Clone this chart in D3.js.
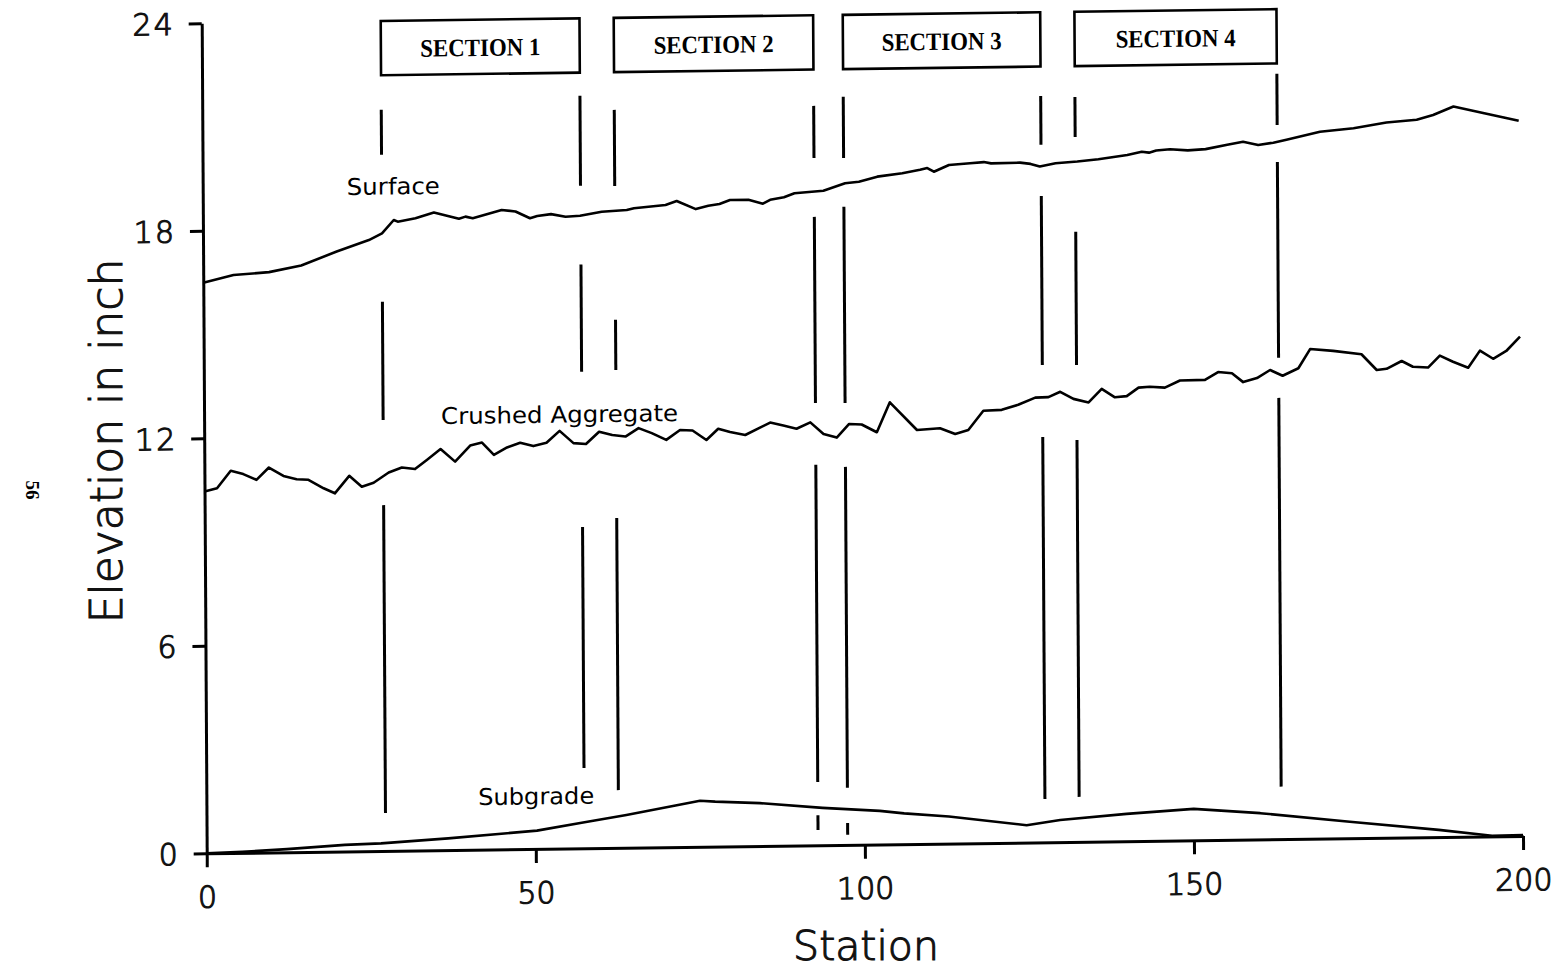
<!DOCTYPE html>
<html>
<head>
<meta charset="utf-8">
<script src="https://cdn.jsdelivr.net/npm/d3@7"></script>
<style>
  html, body { margin: 0; padding: 0; background: #fff; }
  svg { display: block; }
</style>
</head>
<body>
<div id="chart"></div>
<script>
// Layer elevations along the test road, [station, elevation in inch]
const surface = [[0,16.50],[4.6,16.71],[10.0,16.78],[14.9,16.96],[20.3,17.35],[25.2,17.67],[27.2,17.86],[29.0,18.24],[29.6,18.19],[32.3,18.28],[35.1,18.44],[38.9,18.25],[39.9,18.31],[41.0,18.26],[45.4,18.49],[47.5,18.44],[49.7,18.24],[50.8,18.30],[52.9,18.35],[55.1,18.27],[57.3,18.29],[60.6,18.40],[64.4,18.44],[65.5,18.49],[70.3,18.57],[72.0,18.68],[74.9,18.44],[76.8,18.53],[78.5,18.58],[80.1,18.69],[82.9,18.69],[85.1,18.57],[86.2,18.68],[88.3,18.75],[89.9,18.86],[94.3,18.92],[97.6,19.13],[99.7,19.17],[102.5,19.31],[106.3,19.40],[109.0,19.49],[110.1,19.54],[111.1,19.43],[113.4,19.62],[116.6,19.66],[118.7,19.69],[119.8,19.65],[124.2,19.66],[125.8,19.62],[127.2,19.54],[129.6,19.63],[132.9,19.67],[136.1,19.73],[140.5,19.84],[142.7,19.93],[143.8,19.90],[144.9,19.96],[147.0,19.99],[149.7,19.95],[152.4,19.98],[155.7,20.10],[158.1,20.18],[160.4,20.08],[162.7,20.14],[164.7,20.22],[169.8,20.44],[174.9,20.53],[179.9,20.68],[184.5,20.75],[187.0,20.88],[190.1,21.12],[194.6,20.92],[200,20.68]];

const crushedAggregate = [[0,10.46],[1.9,10.55],[4.0,11.05],[5.9,10.95],[7.9,10.78],[9.8,11.13],[12.0,10.88],[14.0,10.78],[15.8,10.76],[18.1,10.51],[19.8,10.36],[22.0,10.86],[23.9,10.54],[25.7,10.65],[28.0,10.94],[30.0,11.08],[32.0,11.03],[33.8,11.29],[35.9,11.60],[38.1,11.23],[40.4,11.69],[42.2,11.77],[44.0,11.41],[46.0,11.62],[48.0,11.75],[50.0,11.65],[52.0,11.74],[54.0,12.08],[56.1,11.72],[58.0,11.69],[60.0,12.04],[62.0,11.94],[64.0,11.89],[66.0,12.13],[68.0,11.98],[70.2,11.78],[72.3,12.06],[74.2,12.04],[76.3,11.76],[78.1,12.08],[79.9,11.98],[82.2,11.89],[86.0,12.24],[88.0,12.15],[90.0,12.05],[92.1,12.23],[94.1,11.89],[96.1,11.78],[98.0,12.17],[99.9,12.15],[102.2,11.92],[104.2,12.78],[108.3,11.97],[111.8,12.01],[114.1,11.84],[116.1,11.95],[118.4,12.50],[121.2,12.52],[123.7,12.66],[126.3,12.86],[128.3,12.87],[130.1,13.02],[132.1,12.81],[134.4,12.70],[136.4,13.09],[138.4,12.84],[140.2,12.87],[142.0,13.11],[143.7,13.13],[146.0,13.10],[148.3,13.30],[152.1,13.31],[154.1,13.53],[156.2,13.49],[157.9,13.23],[160.0,13.34],[162.0,13.57],[163.9,13.40],[166.3,13.61],[168.1,14.16],[171.6,14.10],[175.9,13.99],[178.2,13.53],[179.7,13.56],[182.0,13.78],[183.7,13.61],[186.0,13.58],[187.8,13.92],[189.8,13.74],[192.1,13.56],[193.9,14.05],[195.9,13.81],[197.9,14.03],[200,14.44]];

const subgrade = [[0,0],[5.4,0.03],[12.2,0.09],[21.0,0.19],[26.5,0.22],[36.7,0.34],[50.2,0.53],[57.0,0.74],[63.8,0.95],[75.0,1.33],[77.3,1.30],[84.1,1.24],[93.6,1.08],[102.3,0.97],[106.0,0.89],[112.8,0.78],[124.6,0.50],[129.7,0.64],[139.8,0.79],[150.0,0.91],[160.1,0.76],[173.7,0.48],[187.2,0.21],[195.3,0.02],[200,0.03]];

// Test sections and their boundary stations
const sectionNames = ["SECTION 1", "SECTION 2", "SECTION 3", "SECTION 4"];
const sectionStart = [27.2, 62.6, 97.4, 132.6];
const sectionEnd   = [57.4, 92.9, 127.4, 163.3];

// Boundary marker lines: station and the drawn stretches [from, to] in elevation
const markerStations = [27.2, 57.4, 62.6, 92.9, 97.4, 127.4, 132.6, 163.3];
const markerSegments = [
  [[20.13,21.43],[12.46,15.88],[1.10,10.00]],
  [[19.16,21.76],[13.78,16.88],[2.32,9.29]],
  [[19.14,21.34],[13.82,15.27],[1.67,9.54]],
  [[19.87,21.38],[12.79,18.17],[1.83,11.00],[0.44,0.87]],
  [[19.86,21.63],[12.78,18.45],[1.65,10.93],[0.29,0.63]],
  [[20.17,21.58],[13.80,18.69],[1.25,11.72]],
  [[20.38,21.54],[13.79,17.64],[1.30,11.62]],
  [[20.65,22.13],[13.92,19.58],[1.52,12.76]]
];

const xTicks = [0, 50, 100, 150, 200];
const yTicks = [0, 6, 12, 18, 24];

// ---------------------------------------------------------------
const W = 1558, H = 969;
const FONT = "'DejaVu Sans', 'Liberation Sans', sans-serif";

const svg = d3.select("#chart").append("svg")
  .attr("width", W).attr("height", H)
  .attr("viewBox", `0 0 ${W} ${H}`);
svg.append("rect").attr("width", W).attr("height", H).attr("fill", "#fff");

const x0 = 206.7, x1 = 1523, yBase = 853.3, yTop = 23.3;
const x = d3.scaleLinear().domain([0, 200]).range([x0, x1]);
const y = d3.scaleLinear().domain([0, 24]).range([yBase, yTop]);

// the printed sheet sits slightly skewed: shear the plot about its origin
const kx = 0.00602, ky = -0.01314;
const g = svg.append("g")
  .attr("transform", `matrix(1,${ky},${kx},1,${-kx * yBase},${-ky * x0})`);

// thin plotter lettering: extra-light face with a fine outline
function plotterText(sel, size) {
  sel.attr("font-family", FONT).attr("font-size", size).attr("font-weight", 200)
    .attr("fill", "#111").attr("stroke", "#111").attr("stroke-width", 1.1)
    .attr("paint-order", "stroke");
}

// axes
const yAxis = g.append("g").attr("transform", `translate(${x0},0)`)
  .call(d3.axisLeft(y).tickValues(yTicks).tickSize(13).tickSizeOuter(0).tickFormat(d3.format("d")));
const xAxis = g.append("g").attr("transform", `translate(0,${yBase})`)
  .call(d3.axisBottom(x).tickValues(xTicks).tickSize(14).tickSizeOuter(0).tickFormat(d3.format("d")));

[yAxis, xAxis].forEach(a => {
  a.selectAll("path, line").attr("stroke", "#000").attr("stroke-width", 3);
  a.selectAll("text").call(plotterText, 30);
});
yAxis.selectAll("text").attr("x", -27).attr("dy", "0.36em").attr("letter-spacing", 2);
xAxis.selectAll("text").attr("y", 33).attr("dy", "0.71em");

// axis titles (placed on the page directly)
svg.append("text")
  .attr("x", 866).attr("y", 960)
  .attr("text-anchor", "middle")
  .call(plotterText, 41)
  .text("Station");

svg.append("text")
  .attr("transform", "translate(122,441) rotate(-90)")
  .attr("text-anchor", "middle")
  .call(plotterText, 44)
  .text("Elevation in inch");

// section boundary markers
markerStations.forEach((s, i) => {
  g.selectAll(null).data(markerSegments[i]).enter().append("line")
    .attr("x1", x(s)).attr("x2", x(s))
    .attr("y1", d => y(d[0])).attr("y2", d => y(d[1]))
    .attr("stroke", "#000").attr("stroke-width", 3);
});

// section boxes
const boxTop = 24.0, boxBottom = 22.43, labelBase = 22.95;
const boxes = g.selectAll(".section").data(sectionNames).enter().append("g").attr("class", "section");
boxes.append("rect")
  .attr("x", (d, i) => x(sectionStart[i]))
  .attr("y", y(boxTop))
  .attr("width", (d, i) => x(sectionEnd[i]) - x(sectionStart[i]))
  .attr("height", y(boxBottom) - y(boxTop))
  .attr("fill", "#fff").attr("stroke", "#000").attr("stroke-width", 2.6);
boxes.append("text")
  .attr("x", (d, i) => x((sectionStart[i] + sectionEnd[i]) / 2))
  .attr("y", y(labelBase))
  .attr("text-anchor", "middle")
  .attr("font-family", "'Liberation Serif', 'DejaVu Serif', serif")
  .attr("font-weight", "bold").attr("font-size", 25)
  .attr("textLength", 120).attr("lengthAdjust", "spacingAndGlyphs")
  .attr("fill", "#000")
  .text(d => d);

// layer profiles
const line = d3.line().x(d => x(d[0])).y(d => y(d[1]));
[surface, crushedAggregate, subgrade].forEach(series => {
  g.append("path").datum(series)
    .attr("d", line)
    .attr("fill", "none").attr("stroke", "#000")
    .attr("stroke-width", 2.6).attr("stroke-linejoin", "round");
});

// layer names
const layerLabels = [
  { text: "Surface", at: [21.9, 18.98], len: 93 },
  { text: "Crushed Aggregate", at: [36.0, 12.32], len: 237 },
  { text: "Subgrade", at: [41.3, 1.29], len: 116 }
];
g.selectAll(".layer-label").data(layerLabels).enter().append("text")
  .attr("class", "layer-label")
  .attr("x", d => x(d.at[0])).attr("y", d => y(d.at[1]))
  .attr("font-family", FONT).attr("font-size", 23)
  .attr("textLength", d => d.len).attr("lengthAdjust", "spacingAndGlyphs")
  .attr("fill", "#000")
  .text(d => d.text);

// page number along the binding edge
svg.append("text")
  .attr("transform", "translate(30,490) rotate(90)")
  .attr("text-anchor", "middle").attr("dominant-baseline", "middle")
  .attr("font-family", "'Liberation Serif', serif").attr("font-weight", "bold")
  .attr("font-size", 19).attr("fill", "#000")
  .text("56");
</script>
</body>
</html>
